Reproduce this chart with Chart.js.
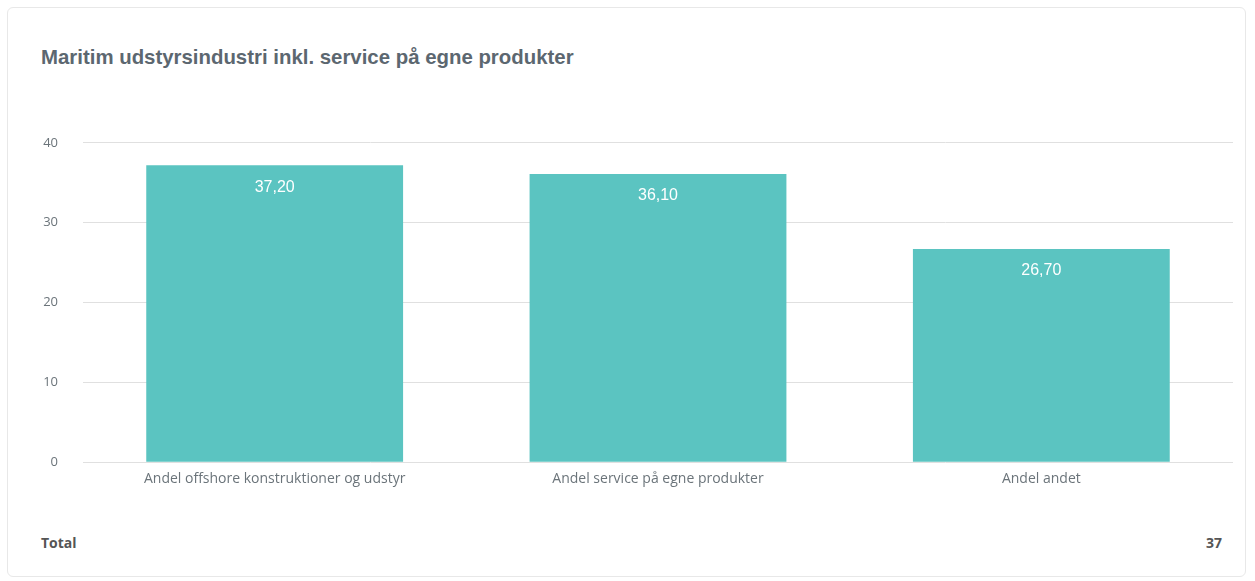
<!DOCTYPE html>
<html>
<head>
<meta charset="utf-8">
<script src="https://cdn.jsdelivr.net/npm/chart.js@4/dist/chart.umd.min.js"></script>
<style>
  html, body { margin: 0; padding: 0; background: #fff; }
  body { width: 1255px; height: 581px; position: relative; overflow: hidden; font-family: "Liberation Sans", Arial, sans-serif; }
  .card {
    position: absolute; left: 7px; top: 7px; width: 1239px; height: 570px;
    border: 1px solid #e8e8e8; border-radius: 6px; box-sizing: border-box;
  }
  .title {
    position: absolute; left: 41px; top: 46px; margin: 0;
    font-size: 20.4px; font-weight: bold; color: #5c6770;
  }
  .chart-wrap { position: absolute; left: 20px; top: 110px; width: 1225px; height: 393px; }
  .footer {
    position: absolute; left: 41px; right: 33px; top: 533px;
    font-family: "Open Sans", sans-serif;
    font-size: 14px; font-weight: bold; color: #555;
    display: flex; justify-content: space-between;
  }
</style>
</head>
<body>
<div class="card"></div>
<h2 class="title">Maritim udstyrsindustri inkl. service på egne produkter</h2>
<div class="chart-wrap"><canvas id="chart"></canvas></div>
<div class="footer"><span>Total</span><span id="total"></span></div>

<script>
// Kategorier og andele (procent)
const kategorier = [
    'Andel offshore konstruktioner og udstyr',
    'Andel service på egne produkter',
    'Andel andet'
];
const andele = [37.2, 36.1, 26.7];
const yTicks = [0, 10, 20, 30, 40];
const total = 37;

document.getElementById('total').textContent = total;

// Skriver værdien (dansk format) øverst inde i hver søjle
const vaerdiLabels = {
    id: 'vaerdiLabels',
    afterDatasetsDraw(chart) {
        const ctx = chart.ctx;
        const meta = chart.getDatasetMeta(0);
        ctx.save();
        ctx.fillStyle = '#ffffff';
        ctx.font = '16px "Liberation Sans", Arial, sans-serif';
        ctx.textAlign = 'center';
        ctx.textBaseline = 'middle';
        meta.data.forEach((bar, i) => {
            const txt = andele[i].toFixed(2).replace('.', ',');
            ctx.fillText(txt, bar.x, bar.y + 22);
        });
        ctx.restore();
    }
};

new Chart(document.getElementById('chart'), {
    type: 'bar',
    data: {
        labels: kategorier,
        datasets: [{
            data: andele,
            backgroundColor: '#5bc4c1',
            borderWidth: 0,
            barPercentage: 0.67,
            categoryPercentage: 1
        }]
    },
    plugins: [vaerdiLabels],
    options: {
        responsive: true,
        maintainAspectRatio: false,
        animation: false,
        layout: { padding: { top: 17, right: 12, bottom: 8, left: 0 } },
        plugins: {
            legend: { display: false },
            tooltip: { enabled: false }
        },
        scales: {
            x: {
                grid: { display: false, drawTicks: false },
                border: { display: false },
                ticks: {
                    color: '#6b747a',
                    padding: 8,
                    font: { size: 14, family: '"Open Sans", sans-serif' }
                }
            },
            y: {
                min: 0,
                max: 40,
                afterBuildTicks(scale) {
                    scale.ticks = yTicks.map(v => ({ value: v }));
                },
                afterFit(scale) {
                    scale.width = 63;
                },
                grid: { color: '#e0e0e0', drawTicks: false },
                border: { display: false },
                ticks: {
                    color: '#6b747a',
                    padding: 25,
                    font: { size: 13, family: '"Open Sans", sans-serif' }
                }
            }
        }
    }
});
</script>
</body>
</html>
